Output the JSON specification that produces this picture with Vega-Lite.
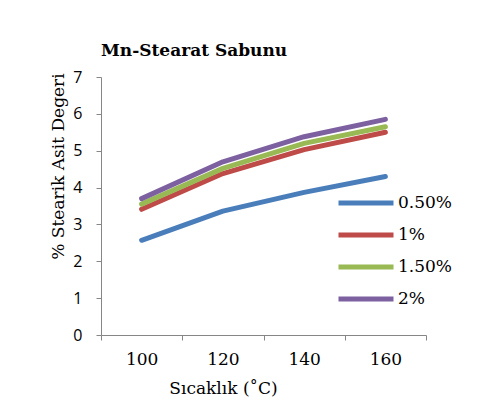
{
  "$schema": "https://vega.github.io/schema/vega-lite/v6.json",
  "autosize": {"type": "none"},
  "width": 325,
  "height": 258,
  "padding": {"left": 101, "top": 77, "right": 74, "bottom": 70},
  "background": "white",
  "config": {"view": {"stroke": null}},
  "title": {
    "text": "Mn-Stearat Sabunu",
    "anchor": "start",
    "frame": "group",
    "font": "DejaVu Serif",
    "fontSize": 17,
    "fontWeight": "bold",
    "color": "#000000",
    "offset": 9
  },
  "data": {
    "values": [
      {"temp": "100", "series": "0.50%", "value": 2.57},
      {"temp": "120", "series": "0.50%", "value": 3.36},
      {"temp": "140", "series": "0.50%", "value": 3.87},
      {"temp": "160", "series": "0.50%", "value": 4.3},
      {"temp": "100", "series": "1%", "value": 3.41},
      {"temp": "120", "series": "1%", "value": 4.38},
      {"temp": "140", "series": "1%", "value": 5.03},
      {"temp": "160", "series": "1%", "value": 5.5},
      {"temp": "100", "series": "1.50%", "value": 3.55},
      {"temp": "120", "series": "1.50%", "value": 4.52},
      {"temp": "140", "series": "1.50%", "value": 5.2},
      {"temp": "160", "series": "1.50%", "value": 5.65},
      {"temp": "100", "series": "2%", "value": 3.7},
      {"temp": "120", "series": "2%", "value": 4.7},
      {"temp": "140", "series": "2%", "value": 5.38},
      {"temp": "160", "series": "2%", "value": 5.85}
    ]
  },
  "mark": {"type": "line", "strokeWidth": 5, "strokeCap": "round", "strokeJoin": "round"},
  "encoding": {
    "x": {
      "field": "temp",
      "type": "ordinal",
      "bandPosition": 0.5,
      "scale": {"type": "band", "paddingInner": 0, "paddingOuter": 0},
      "axis": {
        "title": "Sıcaklık (˚C)",
        "titleFont": "DejaVu Serif",
        "titleFontSize": 17,
        "titleFontWeight": "normal",
        "titleColor": "#000000",
        "titleX": 122,
        "titleY": 58,
        "titleBaseline": "alphabetic",
        "labelAngle": 0,
        "labelFont": "DejaVu Serif",
        "labelFontSize": 17,
        "labelColor": "#000000",
        "labelPadding": 11,
        "tickBand": "extent",
        "tickSize": 5,
        "tickColor": "#868686",
        "domainColor": "#868686",
        "grid": false
      }
    },
    "y": {
      "field": "value",
      "type": "quantitative",
      "scale": {"domain": [0, 7], "nice": false},
      "axis": {
        "values": [0, 1, 2, 3, 4, 5, 6, 7],
        "title": "% Stearik Asit Degeri",
        "titleFont": "DejaVu Serif",
        "titleFontSize": 17,
        "titleFontWeight": "normal",
        "titleColor": "#000000",
        "titleY": 89,
        "titleAlign": "center",
        "titlePadding": 5,
        "labelFont": "Open Sans",
        "labelFontSize": 16,
        "labelColor": "#000000",
        "labelPadding": 14,
        "tickSize": 5,
        "tickColor": "#868686",
        "domainColor": "#868686",
        "grid": false
      }
    },
    "color": {
      "field": "series",
      "type": "nominal",
      "sort": ["0.50%", "1%", "1.50%", "2%"],
      "scale": {
        "domain": ["0.50%", "1%", "1.50%", "2%"],
        "range": ["#4A7EBB", "#BE4B48", "#98B954", "#7D60A0"]
      },
      "legend": {
        "title": null,
        "orient": "none",
        "legendX": 235,
        "legendY": 110,
        "symbolType": "stroke",
        "symbolStrokeWidth": 5,
        "symbolSize": 3025,
        "clipHeight": 32,
        "rowPadding": 0,
        "labelFont": "DejaVu Serif",
        "labelFontSize": 17,
        "labelColor": "#000000",
        "labelOffset": 2
      }
    }
  }
}
